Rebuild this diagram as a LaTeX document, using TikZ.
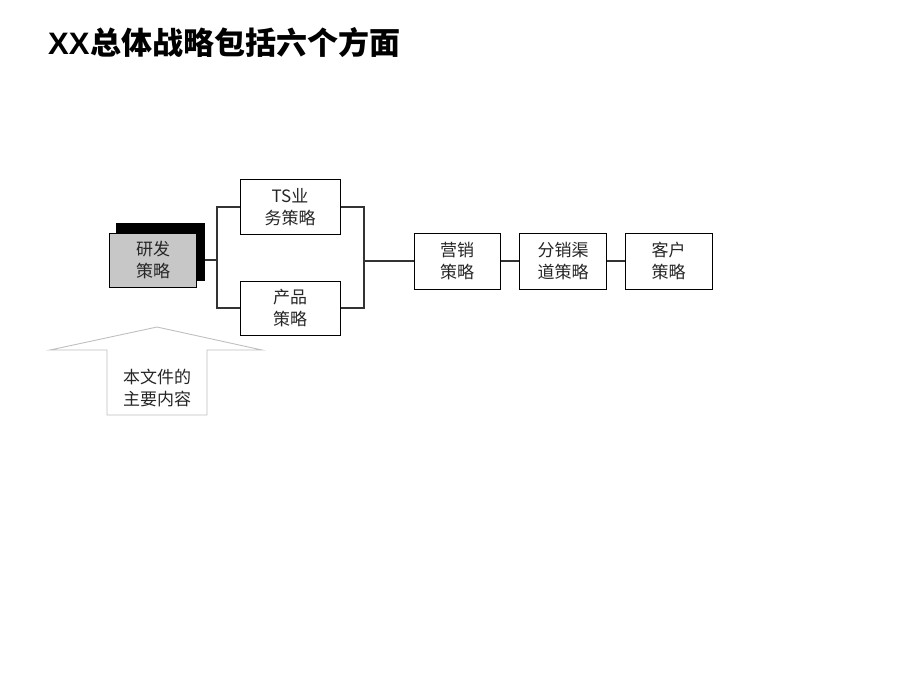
\documentclass[tikz,border=0pt]{standalone}
\usepackage{fontspec}
\setmainfont{Liberation Sans}
\newfontfamily\cjk{Noto Sans CJK SC}
\newfontfamily\cjkbold{Noto Sans CJK SC Bold}
\begin{document}
\begin{tikzpicture}[x=1pt,y=-1pt,
	blk/.style={rectangle, draw=black, line width=1pt, fill=white, inner sep=0pt, align=center, minimum width=87pt, minimum height=56pt, font=\cjk\fontsize{17}{22}\selectfont, text=black!85},
	lnk/.style={draw=black!80, line width=1.4pt}]

	\useasboundingbox (0,0) rectangle (920,691);

	\node 	(title)	at	(48,54) 	[anchor=base west, inner sep=0pt]{\fontsize{31}{34}\selectfont\bfseries XX\hspace{1pt}\cjkbold 总体战略包括六个方面};

	% arrow outline
	\draw[black!25, line width=0.9pt]	(107,415) -- (107,350) -- (50,350) -- (157,327) -- (262,350) -- (207,350) -- (207,415) -- cycle;
	\node 	(doc)	at	(157,388) 	[align=center, inner sep=0pt, font=\cjk\fontsize{17}{22}\selectfont, text=black!85]{本文件的\\主要内容};

	\node 	(rdshadow)	at	(160,252) 	[blk, fill=black, minimum width=88pt, minimum height=57pt]{};
	\node 	(rd)	at	(153,260) 	[blk, fill=black!22, minimum width=87pt, minimum height=54pt]{研发\\策略};

	\node 	(ts)	at	(290,207) 	[blk, minimum width=100pt, minimum height=55pt]{TS业\\务策略};
	\node 	(cp)	at	(290,308) 	[blk, minimum width=100pt, minimum height=54pt]{产品\\策略};

	\node 	(yx)	at	(457,261) 	[blk, minimum width=86pt]{营销\\策略};
	\node 	(fx)	at	(563,261) 	[blk]{分销渠\\道策略};
	\node 	(kh)	at	(668.5,261) 	[blk]{客户\\策略};

	\coordinate	(bl)	at	(217,260);
	\coordinate	(br)	at	(364,261);

	\draw[lnk]	(rdshadow.east |- bl)	--	(bl);
	\draw[lnk]	(ts.west)	-|	(bl)	|-	(cp.west);
	\draw[lnk]	(ts.east)	-|	(br)	|-	(cp.east);
	\draw[lnk]	(br)	--	(yx.west);
	\draw[lnk]	(yx.east)	--	(fx.west);
	\draw[lnk]	(fx.east)	--	(kh.west);

\end{tikzpicture}
\end{document}
